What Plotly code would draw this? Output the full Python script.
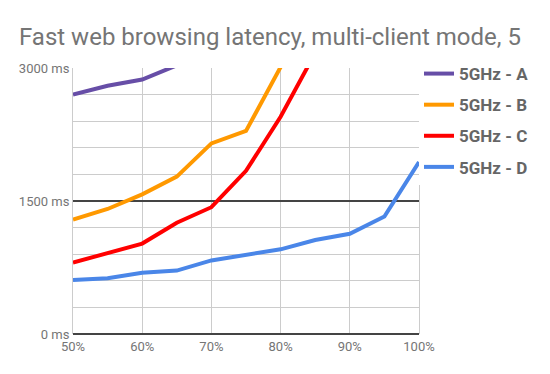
import plotly.graph_objects as go

x_load = [50, 55, 60, 65, 70, 75, 80, 85, 90, 95, 100]
series_names = ["5GHz - A", "5GHz - B", "5GHz - C", "5GHz - D"]
series_colors = ["#674ea7", "#ff9900", "#ff0000", "#4a86e8"]
lat_a = [2700, 2800, 2870, 3030, 3400, 3800, 4200, 4600, 5000, 5400, 5800]
lat_b = [1290, 1410, 1575, 1775, 2150, 2290, 3010, 3600, 4200, 4800, 5400]
lat_c = [805, 910, 1020, 1255, 1430, 1840, 2450, 3170, 3800, 4400, 5000]
lat_d = [610, 630, 690, 715, 830, 890, 955, 1060, 1130, 1325, 1940]
series_values = [lat_a, lat_b, lat_c, lat_d]
y_ticks = [0, 1500, 3000]
y_tick_labels = ["0 ms", "1500 ms", "3000 ms"]
x_ticks = [50, 60, 70, 80, 90, 100]
x_tick_labels = ["50%", "60%", "70%", "80%", "90%", "100%"]

fig = go.Figure()
for name, color, vals in zip(series_names, series_colors, series_values):
    fig.add_trace(go.Scatter(x=x_load, y=vals, name=name, mode="lines",
                             line=dict(color=color, width=4), legendgroup=name))

W, H = 542, 366
fig.update_layout(
    width=W, height=H,
    margin=dict(l=65, r=131, t=60, b=40),
    paper_bgcolor="white", plot_bgcolor="white",
    font=dict(family="Roboto", color="#757575"),
    title=dict(text="Fast web browsing latency, multi-client mode, 5",
               x=11 / W, xanchor="left", y=1 - 29 / H, yanchor="middle",
               font=dict(size=24, color="#757575", family="Roboto")),
    showlegend=True,
    legend=dict(x=1.0, xanchor="left", y=1.045, yanchor="top",
                font=dict(size=17, color="#666666", family="Roboto", weight="bold"),
                tracegroupgap=6, itemwidth=30),
    xaxis=dict(range=[50, 100], tickvals=x_ticks, ticktext=x_tick_labels,
               showgrid=True, gridcolor="#cccccc", gridwidth=1,
               zeroline=False, showline=False, ticklabelstandoff=3,
               tickfont=dict(size=13, color="#757575"), ticks=""),
    yaxis=dict(range=[0, 3000], tickvals=y_ticks, ticktext=y_tick_labels,
               showgrid=True, gridcolor="#444444", gridwidth=1.5,
               zeroline=True, zerolinecolor="#444444", zerolinewidth=1.5,
               showline=True, mirror=True, linecolor="#cccccc",
               minor=dict(dtick=300, showgrid=True, gridcolor="#cccccc", gridwidth=1, ticks=""),
               tickfont=dict(size=13, color="#757575"), ticks="", ticklen=0),
)
fig.write_html("out.html")
